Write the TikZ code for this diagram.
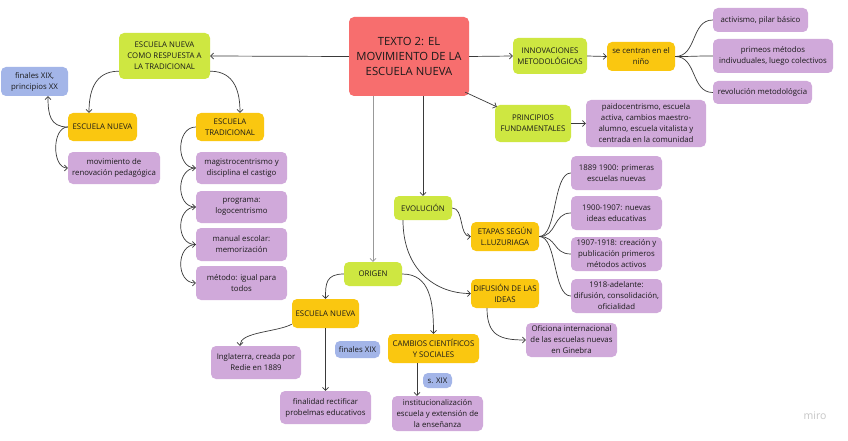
\documentclass[tikz,border=0pt]{standalone}
\usepackage{fontspec}
\setmainfont{Open Sans}
\usetikzlibrary{arrows.meta}
\definecolor{cred}{HTML}{F76E6E}
\definecolor{clime}{HTML}{CEE741}
\definecolor{cyel}{HTML}{FAC710}
\definecolor{cpur}{HTML}{D0A9DA}
\definecolor{cblue}{HTML}{A3B5E8}
\definecolor{ctext}{HTML}{1A1A1A}
\definecolor{cline}{HTML}{3A3A3A}
\tikzset{
  box/.style={rounded corners=5pt, inner sep=1pt, align=center, text=ctext,
    font=\fontsize{7.8}{11}\selectfont},
  redbox/.style={box, fill=cred, font=\fontsize{11.3}{15.3}\selectfont},
  limebox/.style={box, fill=clime},
  yelbox/.style={box, fill=cyel},
  purbox/.style={box, fill=cpur},
  bluebox/.style={box, fill=cblue},
  conn/.style={draw=cline, line width=0.7pt, -{Straight Barb[length=3pt,width=6pt]}},
  plain/.style={draw=cline, line width=0.7pt},
  lightconn/.style={conn, draw=gray!80}
}
\newcommand{\bx}[8]{\node[#2, minimum width=#5pt, minimum height=#6pt] (#1) at (#3,#4) {#7};}
\begin{document}
\begin{tikzpicture}[x=1pt,y=-1pt]
\fill[white] (0,0) rectangle (848,441);
\useasboundingbox (0,0) rectangle (848,441);

\bx{main}{redbox}{409}{56.5}{120}{79}{TEXTO 2: EL\\MOVIMIENTO DE LA\\ESCUELA NUEVA}{}
\bx{resp}{limebox}{164.5}{56}{91}{46}{ESCUELA NUEVA\\COMO RESPUESTA A\\LA TRADICIONAL}{}
\bx{fin1}{bluebox}{34.5}{81.5}{67}{29}{finales XIX,\\principios XX}{}
\bx{en1}{yelbox}{102.5}{127}{69}{28}{ESCUELA NUEVA}{}
\bx{mov}{purbox}{114}{168}{92}{32}{movimiento de\\renovación pedagógica}{}
\bx{trad}{yelbox}{230}{127}{68}{28}{ESCUELA\\TRADICIONAL}{}
\bx{mag}{purbox}{241.5}{168}{91}{32}{magistrocentrismo y\\disciplina el castigo}{}
\bx{prog}{purbox}{241.5}{207}{91}{32}{programa:\\logocentrismo}{}
\bx{man}{purbox}{241.5}{244.5}{91}{33}{manual escolar:\\memorización}{}
\bx{met}{purbox}{241.5}{283}{91}{34}{método: igual para\\todos}{}
\bx{inn}{limebox}{550}{56}{74}{36}{INNOVACIONES\\METODOLÓGICAS}{}
\bx{cen}{yelbox}{641}{56.5}{68}{29}{se centran en el\\niño}{}
\bx{act}{purbox}{760.5}{20}{95}{24}{activismo, pilar básico}{}
\bx{prim}{purbox}{773}{56}{120}{34}{primeos métodos\\indivuduales, luego colectivos}{}
\bx{rev}{purbox}{762.5}{92.5}{99}{23}{revolución metodológcia}{}
\bx{pri}{limebox}{533}{123.5}{76}{37}{PRINCIPIOS\\FUNDAMENTALES}{}
\bx{pai}{purbox}{646}{123.5}{120}{47}{paidocentrismo, escuela\\activa, cambios maestro-\\alumno, escuela vitalista y\\centrada en la comunidad}{}
\bx{evo}{limebox}{423}{208}{58}{24}{EVOLUCIÓN}{}
\bx{eta}{yelbox}{505}{236.5}{68}{29}{ETAPAS SEGÚN\\L.LUZURIAGA}{}
\bx{e1}{purbox}{616.5}{173}{91}{34}{1889 1900: primeras\\escuelas nuevas}{}
\bx{e2}{purbox}{616.5}{213}{91}{34}{1900-1907: nuevas\\ideas educativas}{}
\bx{e3}{purbox}{616.5}{254}{91}{34}{1907-1918: creación y\\publicación primeros\\métodos activos}{}
\bx{e4}{purbox}{616.5}{296}{91}{34}{1918-adelante:\\difusión, consolidación,\\oficialidad}{}
\bx{dif}{yelbox}{505}{293.5}{68}{29}{DIFUSIÓN DE LAS\\IDEAS}{}
\bx{ofi}{purbox}{571.5}{340}{91}{34}{Oficiona internacional\\de las escuelas nuevas\\en Ginebra}{}
\bx{ori}{limebox}{373}{274}{58}{24}{ORIGEN}{}
\bx{en2}{yelbox}{325.5}{313.5}{67}{29}{ESCUELA NUEVA}{}
\bx{ing}{purbox}{256}{362.5}{90}{33}{Inglaterra, creada por\\Redie en 1889}{}
\bx{fin2}{purbox}{325.5}{407.5}{91}{33}{finalidad rectificar\\probelmas educativos}{}
\bx{fx}{bluebox}{357.5}{349.5}{45}{17}{finales XIX}{}
\bx{cam}{yelbox}{433.5}{348.5}{91}{29}{CAMBIOS CIENTÍFICOS\\Y SOCIALES}{}
\bx{ins}{purbox}{437.5}{413.5}{91}{35}{institucionalización\\escuela y extensión de\\la enseñanza}{}
\bx{sx}{bluebox}{437.5}{380.5}{29}{15}{s. XIX}{}
\node[text=gray!45, font=\fontsize{10.5}{12}\selectfont] (logo) at (815,416) {miro};

% connectors
\draw[conn] (main.west) -- (resp.east);
\draw[conn] ([yshift=8pt]resp.south west) .. controls +(-25,0) and +(0,-20) .. ([xshift=-13.5pt]en1.north);
\draw[conn] ([yshift=8pt]resp.south east) .. controls +(25,0) and +(0,-20) .. ([xshift=10pt]trad.north);
\draw[conn] (en1.west) .. controls +(-18,0) and +(0,18) .. ([xshift=13.5pt]fin1.south);
\draw[conn] (en1.west) .. controls +(-16,0) and +(-16,0) .. (mov.west);
\draw[conn] (trad.west) .. controls +(-20,0) and +(-20,0) .. (mag.west);
\draw[conn] (mag.west) .. controls +(-20,0) and +(-20,0) .. (prog.west);
\draw[conn] (prog.west) .. controls +(-20,0) and +(-20,0) .. (man.west);
\draw[conn] (man.west) .. controls +(-20,0) and +(-20,0) .. (met.west);
\draw[conn] (main.east) -- (inn.west);
\draw[conn] (inn.east) -- (cen.west);
\foreach \t in {act,prim,rev}
  \draw[plain] (cen.east) .. controls +(22,0) and +(-22,0) .. (\t.west);
\draw[conn] ([xshift=-4pt,yshift=4pt]main.south east) -- ([xshift=2pt,yshift=-2pt]pri.north west);
\draw[conn] (pri.east) -- (pai.west);
\draw[conn] ([xshift=14pt]main.south) -- (evo.north);
\draw[lightconn] ([xshift=-36pt]main.south) -- (ori.north);
\draw[conn] (evo.east) .. controls +(12,0) and +(-12,0) .. (eta.west);
\draw[conn] ([xshift=-20pt]evo.south) .. controls +(0,50) and +(-35,0) .. (dif.west);
\draw[conn] ([xshift=-18pt]dif.south) .. controls +(0,28) and +(-25,0) .. (ofi.west);
\foreach \t in {e1,e2,e3,e4}
  \draw[plain] (eta.east) .. controls +(18,0) and +(-18,0) .. (\t.west);
\draw[conn] (ori.west) .. controls +(-18,0) and +(0,-15) .. (en2.north);
\draw[conn] (ori.east) .. controls +(28,0) and +(0,-32) .. (cam.north);
\draw[conn] ([yshift=4pt]en2.south west) .. controls +(-15,8) and +(0,-14) .. ([xshift=-16pt]ing.north);
\draw[conn] (en2.south) -- (fin2.north);
\draw[conn] ([xshift=-16.5pt]cam.south) -- ([xshift=-20.5pt]ins.north);
\end{tikzpicture}
\end{document}
